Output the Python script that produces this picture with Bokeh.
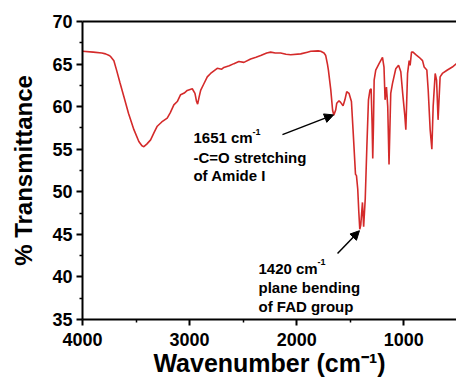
from bokeh.plotting import figure
from bokeh.models import Range1d, FixedTicker, Label, Arrow, NormalHead, LinearAxis
from bokeh.embed import file_html
from bokeh.resources import INLINE

# --- data ---
wavenumber = [4000, 3900, 3820, 3785, 3750, 3738, 3707, 3680, 3650, 3614, 3570, 3520, 3474,
              3445, 3427, 3400, 3364, 3330, 3302, 3260, 3209, 3180, 3147, 3115, 3084, 3050,
              3022, 2975, 2950, 2935, 2925, 2910, 2897, 2870, 2835, 2804, 2742, 2700, 2680,
              2630, 2586, 2540, 2493, 2430, 2380, 2336, 2280, 2243, 2200, 2150, 2100, 2056,
              1963, 1900, 1869, 1800, 1776, 1745, 1729, 1713, 1704, 1682, 1665, 1654, 1645,
              1636, 1626, 1605, 1590, 1567, 1550, 1533, 1511, 1489, 1474, 1451, 1442, 1430,
              1420, 1411, 1402, 1386, 1375, 1360, 1345, 1330, 1316, 1305, 1296, 1290, 1283,
              1277, 1262, 1231, 1199, 1185, 1175, 1162, 1150, 1138, 1122, 1106, 1075, 1049,
              1028, 1010, 991, 981, 965, 950, 941, 928, 914, 888, 857, 825, 810, 785, 772,
              754, 738, 726, 707, 694, 680, 661, 640, 593, 547, 508]
transmittance = [66.5, 66.4, 66.3, 66.2, 66.0, 65.9, 65.4, 64.2, 62.8, 61.2, 59.2, 57.3, 55.9,
                 55.4, 55.3, 55.6, 56.1, 57.0, 57.7, 58.2, 58.65, 59.3, 60.2, 60.6, 61.4, 61.6,
                 61.9, 62.1, 61.55, 60.6, 60.3, 61.2, 61.9, 62.6, 63.5, 63.9, 64.5, 64.4, 64.6,
                 64.8, 65.05, 65.3, 65.2, 65.6, 65.8, 66.0, 66.3, 66.4, 66.3, 66.3, 66.15, 66.1,
                 66.2, 66.4, 66.5, 66.55, 66.5, 66.3, 66.0, 65.0, 64.3, 62.0, 59.6, 59.0, 59.3,
                 59.6, 60.4, 60.7, 60.5, 60.1, 60.8, 61.75, 61.55, 60.6, 57.3, 52.05, 51.9, 50.3,
                 47.6, 45.6, 46.1, 48.75, 45.9, 49.2, 55.3, 60.8, 61.95, 62.1, 58.0, 53.9, 58.0,
                 63.1, 64.3, 65.05, 65.8, 64.65, 60.8, 62.3, 60.0, 53.2, 61.55, 62.7, 64.45, 64.85,
                 64.1, 61.5, 59.0, 57.3, 63.9, 65.4, 64.85, 66.4, 66.4, 66.1, 65.8, 65.4, 64.65,
                 64.3, 61.9, 57.3, 55.0, 60.0, 63.9, 63.1, 58.45, 63.5, 63.9, 64.3, 64.65, 65.05]

x_major = [4000, 3000, 2000, 1000]
x_minor = [3500, 2500, 1500, 500]
y_major = [35, 40, 45, 50, 55, 60, 65, 70]
y_minor = [37.5, 42.5, 47.5, 52.5, 57.5, 62.5, 67.5]

FONT = "Liberation Sans"

p = figure(width=456, height=379, output_backend="svg", toolbar_location=None,
           x_range=Range1d(4000, 508), y_range=Range1d(35, 70),
           min_border_left=82, min_border_right=0, min_border_top=21, min_border_bottom=57)
p.outline_line_color = None
p.xgrid.visible = False
p.ygrid.visible = False
p.background_fill_color = "white"
p.border_fill_color = "white"

p.line(wavenumber, transmittance, line_color="#d42a2a", line_width=1.6)

for ax in (p.xaxis[0], p.yaxis[0]):
    ax.axis_line_width = 2
    ax.axis_line_color = "black"
    ax.major_tick_line_width = 2
    ax.minor_tick_line_width = 1.5
    ax.major_tick_out = 6
    ax.major_tick_in = 0
    ax.minor_tick_out = 3
    ax.minor_tick_in = 0
    ax.major_label_text_font = FONT
    ax.major_label_text_font_style = "bold"
    ax.major_label_text_font_size = "18px"
    ax.major_label_text_color = "black"

p.xaxis.ticker = FixedTicker(ticks=x_major, minor_ticks=x_minor)
p.yaxis.ticker = FixedTicker(ticks=y_major, minor_ticks=y_minor)
p.xaxis.major_label_standoff = 7
p.yaxis.major_label_standoff = 4

p.yaxis.axis_label = "% Transmittance"
p.yaxis.axis_label_text_font = FONT
p.yaxis.axis_label_text_font_style = "bold"
p.yaxis.axis_label_text_font_size = "24px"
p.yaxis.axis_label_text_color = "black"
p.yaxis.axis_label_standoff = 12

p.xaxis.axis_label = "Wavenumber (cm\u207b\u00b9)"
p.xaxis.axis_label_text_font = FONT
p.xaxis.axis_label_text_font_style = "bold"
p.xaxis.axis_label_text_font_size = "25px"
p.xaxis.axis_label_text_color = "black"
p.xaxis.axis_label_standoff = 0

top = LinearAxis(axis_line_width=2, axis_line_color="black",
                 ticker=FixedTicker(ticks=[], minor_ticks=[]),
                 major_tick_line_color=None, minor_tick_line_color=None)
p.add_layout(top, "above")

lab_kw = dict(text_font=FONT, text_font_style="bold", text_color="black",
              text_baseline="alphabetic")

# annotation 1
p.add_layout(Label(x=2964, y=56.36, text="1651 cm", text_font_size="15px", **lab_kw))
p.add_layout(Label(x=2964, y=56.36, x_offset=59, y_offset=6, text="-1", text_font_size="9px", **lab_kw))
p.add_layout(Label(x=2964, y=54.07, text="-C=O stretching", text_font_size="15px", **lab_kw))
p.add_layout(Label(x=2964, y=51.86, text="of Amide I", text_font_size="15px", **lab_kw))

# annotation 2
p.add_layout(Label(x=2357, y=41.0, text="1420 cm", text_font_size="15px", **lab_kw))
p.add_layout(Label(x=2357, y=41.0, x_offset=59, y_offset=6, text="-1", text_font_size="9px", **lab_kw))
p.add_layout(Label(x=2357, y=38.8, text="plane bending", text_font_size="15px", **lab_kw))
p.add_layout(Label(x=2357, y=36.5, text="of FAD group", text_font_size="15px", **lab_kw))

p.add_layout(Arrow(x_start=2133, y_start=56.71, x_end=1656, y_end=59.03,
                   line_color="black", line_width=1.5,
                   end=NormalHead(size=9, fill_color="black", line_color="black")))
p.add_layout(Arrow(x_start=1619, y_start=42.76, x_end=1414, y_end=45.43,
                   line_color="black", line_width=1.5,
                   end=NormalHead(size=9, fill_color="black", line_color="black")))

open("out.html", "w").write(file_html(p, INLINE))
